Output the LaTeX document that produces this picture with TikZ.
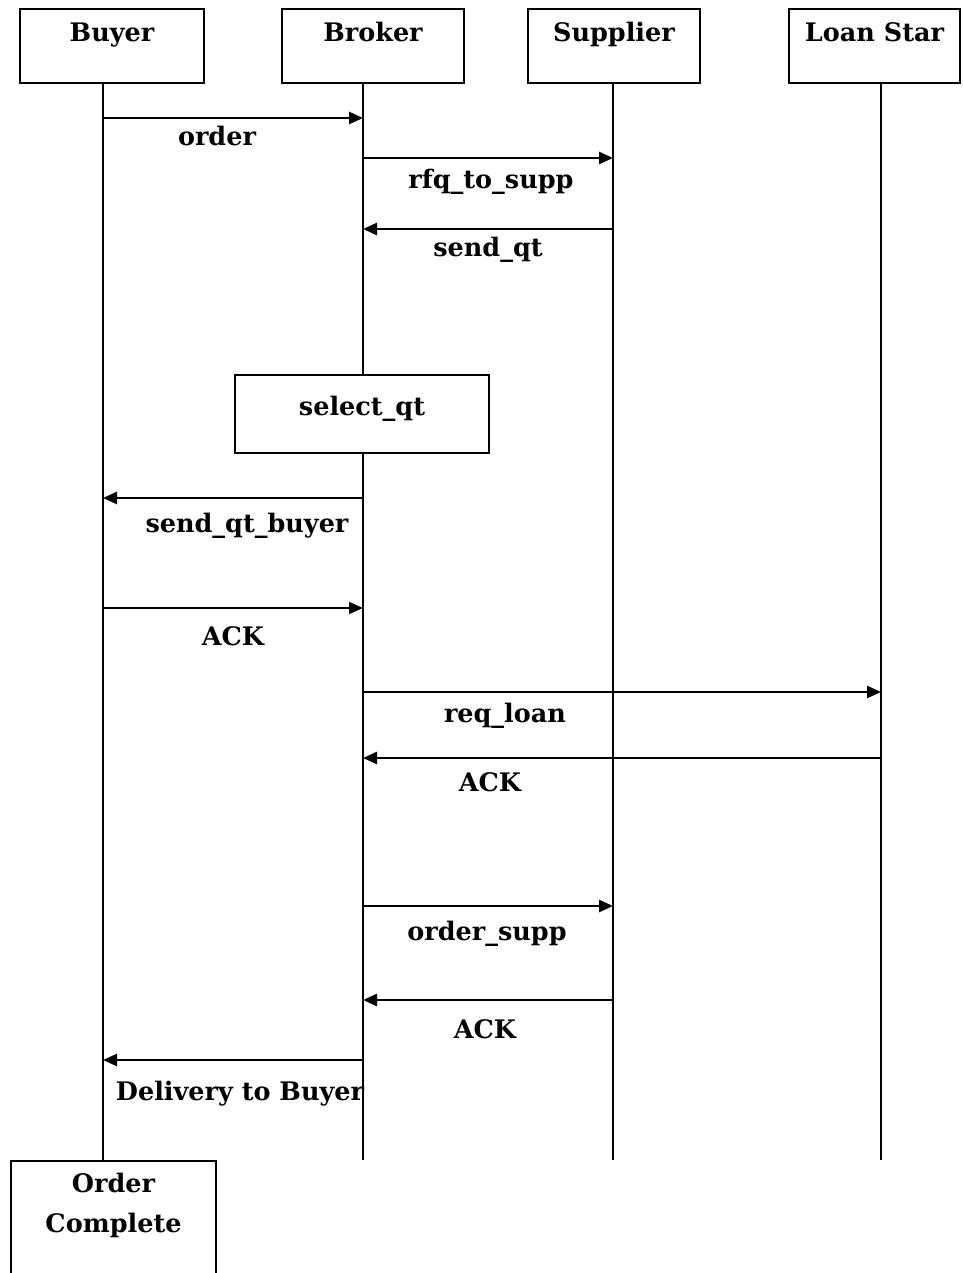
\documentclass[tikz,border=0pt]{standalone}
\usepackage{fontspec}
\setmainfont{DejaVu Serif}
\usetikzlibrary{arrows.meta}
\begin{document}
\begin{tikzpicture}[x=1pt, y=-1pt, line width=2.4pt,
  txt/.style={font=\fontsize{25.5}{40}\selectfont\bfseries},
  actor/.style={draw, txt, minimum width=#1, text height=26pt, text depth=36pt,
    inner sep=6pt, anchor=north},
  lifeline/.style={line width=2.2pt},
  msg/.style={line width=2.6pt, -{Triangle[length=14pt, width=12pt]}},
  lbl/.style={txt, anchor=base, inner sep=0pt}]
  \fill[white] (0,0) rectangle (962,1273);
  \useasboundingbox (0,0) rectangle (962,1273);

  % participants
  \node[actor=184pt] (buyer)    at (112,8)   {Buyer};
  \node[actor=182pt] (broker)   at (373,8)   {Broker};
  \node[actor=172pt] (supplier) at (614,8)   {Supplier};
  \node[actor=171pt] (loan)     at (874.5,8) {Loan Star};

  % lifeline ends
  \coordinate (bT) at (103,82);  \coordinate (bB) at (103,1160);
  \coordinate (kT) at (363,82);  \coordinate (kB) at (363,1160);
  \coordinate (sT) at (613,82);  \coordinate (sB) at (613,1160);
  \coordinate (lT) at (881,82);  \coordinate (lB) at (881,1160);

  \draw[lifeline] (bT) -- (bB);
  \draw[lifeline] (kT) -- (kB);
  \draw[lifeline] (sT) -- (sB);
  \draw[lifeline] (lT) -- (lB);

  % broker activity
  \node[draw, fill=white, txt, minimum width=254pt, minimum height=78pt,
        text height=34pt, text depth=32pt, inner sep=6pt] (sel) at (362,414) {select\_qt};

  % end state
  \node[draw, fill=white, minimum width=205pt, minimum height=140pt, anchor=north]
        (done) at (113.5,1160) {};
  \node[txt, align=center, anchor=north, inner sep=0pt] (donetxt) at (113.5,1172)
        {Order\\Complete};

  % messages
  \draw[msg] (bT |- 0,118)  -- (kT |- 0,118);
  \node[lbl] (m1) at (217,146) {order};

  \draw[msg] (kT |- 0,158)  -- (sT |- 0,158);
  \node[lbl] (m2) at (491,189) {rfq\_to\_supp};

  \draw[msg] (sT |- 0,229)  -- (kT |- 0,229);
  \node[lbl] (m3) at (488,256) {send\_qt};

  \draw[msg] (kT |- 0,498)  -- (bT |- 0,498);
  \node[lbl] (m4) at (247,532) {send\_qt\_buyer};

  \draw[msg, line width=1.8pt] (bT |- 0,608)  -- (kT |- 0,608);
  \node[lbl] (m5) at (233,645) {ACK};

  \draw[msg] (kT |- 0,692)  -- (lT |- 0,692);
  \node[lbl] (m6) at (505,722) {req\_loan};

  \draw[msg] (lT |- 0,758)  -- (kT |- 0,758);
  \node[lbl] (m7) at (490,791) {ACK};

  \draw[msg] (kT |- 0,906)  -- (sT |- 0,906);
  \node[lbl] (m8) at (487,940) {order\_supp};

  \draw[msg] (sT |- 0,1000) -- (kT |- 0,1000);
  \node[lbl] (m9) at (485,1038) {ACK};

  \draw[msg] (kT |- 0,1060) -- (bT |- 0,1060);
  \node[lbl] (m10) at (240,1100) {Delivery to Buyer};
\end{tikzpicture}
\end{document}
